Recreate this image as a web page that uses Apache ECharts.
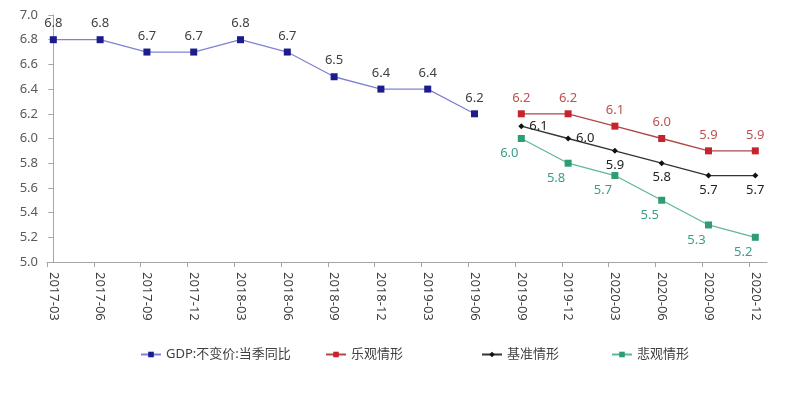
<!DOCTYPE html>
<html><head><meta charset="utf-8">
<script src="https://cdn.jsdelivr.net/npm/echarts@6/dist/echarts.min.js"></script>
<style>html,body{margin:0;padding:0;background:#fff}#c{width:800px;height:394px}</style>
</head><body><div id="c"></div>
<script>
const categories = ['2017-03','2017-06','2017-09','2017-12','2018-03','2018-06','2018-09','2018-12','2019-03','2019-06','2019-09','2019-12','2020-03','2020-06','2020-09','2020-12'];
const gdpName = 'GDP:不变价:当季同比';
const gdpValues = [6.8, 6.8, 6.7, 6.7, 6.8, 6.7, 6.5, 6.4, 6.4, 6.2];
const optimisticValues = [6.2, 6.2, 6.1, 6.0, 5.9, 5.9];
const baselineValues = [6.1, 6.0, 5.9, 5.8, 5.7, 5.7];
const pessimisticValues = [6.0, 5.8, 5.7, 5.5, 5.3, 5.2];
const scenarioStart = 10;
const yTicks = [5.0, 5.2, 5.4, 5.6, 5.8, 6.0, 6.2, 6.4, 6.6, 6.8, 7.0];

const font = '"Noto Sans", "Noto Sans CJK SC", sans-serif';
const toPairs = (vals, start) => vals.map((v, i) => [start + i, v]);
const baselineLabelPos = ['right','right','bottom','bottom','bottom','bottom'];

const chart = echarts.init(document.getElementById('c'));
const labelBase = {show: true, fontSize: 13, fontFamily: font, formatter: p => p.value[1].toFixed(1)};

chart.setOption({
  animation: false,
  grid: {left: 47, right: 33, top: 15, bottom: 132},
  xAxis: {
    type: 'value', min: -0.135, max: 15.25,
    axisLine: {show: true, onZero: false, lineStyle: {color: '#a6a6a6'}},
    axisTick: {show: true, length: 5, customValues: categories.map((c, i) => i - 0.135), lineStyle: {color: '#a6a6a6'}},
    axisLabel: {rotate: -90, fontSize: 13, color: '#404040', fontFamily: font, margin: 10,
      customValues: categories.map((c, i) => i), formatter: v => categories[Math.round(v)]},
    splitLine: {show: false}
  },
  yAxis: {
    type: 'value', min: 5, max: 7, interval: 0.2,
    axisLine: {show: true, lineStyle: {color: '#a6a6a6'}},
    axisTick: {show: true, length: 5, lineStyle: {color: '#a6a6a6'}},
    axisLabel: {fontSize: 13, color: '#595959', fontFamily: font, margin: 9, formatter: v => v.toFixed(1)},
    splitLine: {show: false}
  },
  legend: [
    {data: [gdpName], left: 135, top: 343, itemWidth: 20, itemHeight: 7, itemGap: 4, textStyle: {fontSize: 13, color: '#404040', fontFamily: font}},
    {data: ['乐观情形'], left: 320, top: 343, itemWidth: 20, itemHeight: 7, textStyle: {fontSize: 13, color: '#404040', fontFamily: font}},
    {data: ['基准情形'], left: 476, top: 343, itemWidth: 20, itemHeight: 7, textStyle: {fontSize: 13, color: '#404040', fontFamily: font}},
    {data: ['悲观情形'], left: 606, top: 343, itemWidth: 20, itemHeight: 7, textStyle: {fontSize: 13, color: '#404040', fontFamily: font}}
  ],
  series: [
    {name: gdpName, type: 'line', data: toPairs(gdpValues, 0), symbol: 'rect', symbolSize: 7,
      itemStyle: {color: '#1c1c8c'}, lineStyle: {color: '#7f82d4', width: 1.3},
      label: Object.assign({}, labelBase, {position: 'top', distance: 6, color: '#404040'})},
    {name: '乐观情形', type: 'line', data: toPairs(optimisticValues, scenarioStart), symbol: 'rect', symbolSize: 7,
      itemStyle: {color: '#c8232c'}, lineStyle: {color: '#b04848', width: 1.3},
      label: Object.assign({}, labelBase, {position: 'top', distance: 6, color: '#c0504d'})},
    {name: '基准情形', type: 'line', symbol: 'diamond', symbolSize: 6,
      data: toPairs(baselineValues, scenarioStart).map((d, i) => ({value: d, label: {position: baselineLabelPos[i]}})),
      itemStyle: {color: '#111'}, lineStyle: {color: '#333', width: 1.3},
      label: Object.assign({}, labelBase, {distance: 5, color: '#222'})},
    {name: '悲观情形', type: 'line', data: toPairs(pessimisticValues, scenarioStart), symbol: 'rect', symbolSize: 7,
      itemStyle: {color: '#2e9e72'}, lineStyle: {color: '#5fb89a', width: 1.3},
      label: Object.assign({}, labelBase, {position: 'bottom', distance: 5, offset: [-12, 0], color: '#3a9e88'})}
  ]
});
</script></body></html>
